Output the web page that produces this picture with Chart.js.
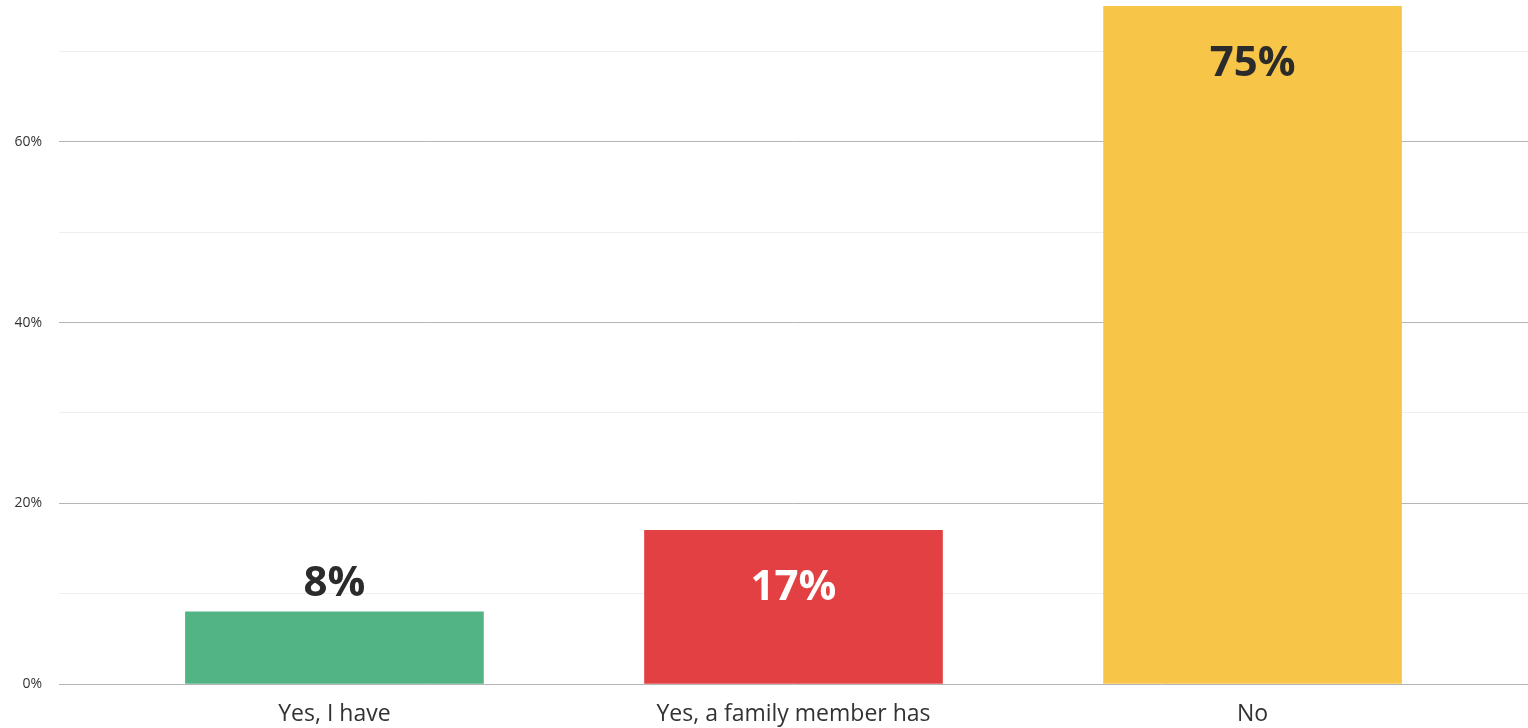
<!DOCTYPE html>
<html lang="en">
<head>
  <meta charset="UTF-8">
  <title>Survey Results</title>
  <script src="https://cdn.jsdelivr.net/npm/chart.js"></script>
  <style>
    html, body { margin: 0; padding: 0; background: #fff; }
    #wrap { width: 1528px; height: 728px; }
  </style>
</head>
<body>
  <div id="wrap"><canvas id="chart"></canvas></div>

  <script>
    // data
    const categories = ['Yes, I have', 'Yes, a family member has', 'No'];
    const values = [8, 17, 75];
    const yTicks = [0, 10, 20, 30, 40, 50, 60, 70];

    const barColors = ['#52b384', '#e34043', '#f7c548'];
    const labelColors = ['#2b2b2b', '#ffffff', '#2b2b2b'];

    // value labels: inside near the top for tall bars, above for short ones
    const valueLabels = {
      id: 'valueLabels',
      afterDatasetsDraw(chart) {
        const ctx = chart.ctx;
        const meta = chart.getDatasetMeta(0);
        ctx.save();
        ctx.font = 'bold 42px "Open Sans", Lato, sans-serif';
        ctx.textAlign = 'center';
        ctx.textBaseline = 'middle';
        meta.data.forEach((bar, i) => {
          const h = bar.base - bar.y;
          let y;
          if (h > 100) {
            y = bar.y + 58;
            ctx.fillStyle = labelColors[i];
          } else {
            y = bar.y - 28;
            ctx.fillStyle = '#2b2b2b';
          }
          ctx.fillText(values[i] + '%', bar.x, y);
        });
        ctx.restore();
      }
    };

    const ctx = document.getElementById('chart').getContext('2d');
    new Chart(ctx, {
      type: 'bar',
      data: {
        datasets: [{
          data: values.map((v, i) => ({ x: i, y: v })),
          backgroundColor: barColors,
          barThickness: 298,
          borderWidth: 0
        }]
      },
      options: {
        responsive: true,
        maintainAspectRatio: false,
        animation: false,
        layout: { padding: 0 },
        plugins: {
          legend: { display: false },
          tooltip: { enabled: false }
        },
        scales: {
          x: {
            type: 'linear',
            offset: false,
            min: -0.6,
            max: 2.6,
            afterBuildTicks: (scale) => {
              scale.ticks = categories.map((c, i) => ({ value: i }));
            },
            afterFit: (scale) => { scale.height = 44; },
            grid: { display: false },
            border: { display: false },
            ticks: {
              padding: 9,
              maxRotation: 0,
              autoSkip: false,
              color: '#333',
              font: { size: 23, family: '"Open Sans", Lato, sans-serif' },
              callback: (v) => categories[v]
            }
          },
          y: {
            min: 0,
            max: 75.7,
            afterBuildTicks: (scale) => {
              scale.ticks = yTicks.map(v => ({ value: v }));
            },
            afterFit: (scale) => {
              scale.width = 59;
              scale.paddingTop = 0;
              scale.paddingBottom = 0;
            },
            border: { display: false },
            grid: {
              drawTicks: false,
              color: (c) => (c.tick && c.tick.value % 20 === 0) ? '#b5b5b5' : '#eeeeee',
              lineWidth: 1
            },
            ticks: {
              padding: 17,
              color: '#333',
              font: { size: 14, family: '"Open Sans", Lato, sans-serif' },
              callback: (v) => v % 20 === 0 ? v + '%' : ''
            }
          }
        }
      },
      plugins: [valueLabels]
    });
  </script>
</body>
</html>
